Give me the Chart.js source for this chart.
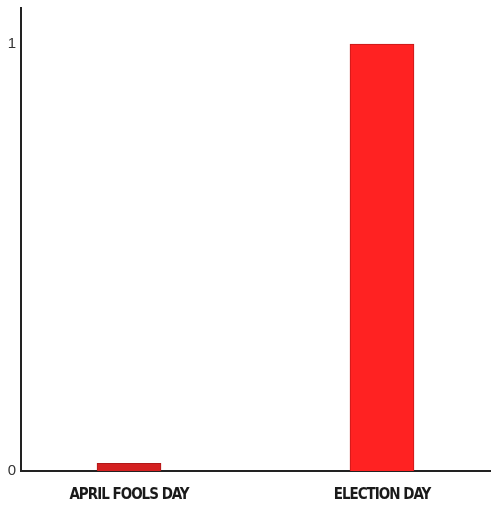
<!DOCTYPE html>
<html>
<head>
<meta charset="utf-8">
<script src="https://cdn.jsdelivr.net/npm/chart.js@4/dist/chart.umd.min.js"></script>
<style>
html,body{margin:0;padding:0;background:#fff;}
#wrap{width:494px;height:510px;}
</style>
</head>
<body>
<div id="wrap"><canvas id="c" width="494" height="510"></canvas></div>
<script>
const categories = ["APRIL FOOLS DAY", "ELECTION DAY"];
const values = [0.018, 1];
const fillColors = ["#d42020", "#ff2222"];
const borderColors = ["#b01818", "#c21a1a"];

const points = values.map((v, i) => ({x: i, y: v}));

const tightText = {
  id: 'tightText',
  beforeDraw(chart) { chart.ctx.letterSpacing = '-1px'; },
  afterDraw(chart) { chart.ctx.letterSpacing = '0px'; }
};

new Chart(document.getElementById('c'), {
  type: 'bar',
  data: {
    datasets: [{
      data: points,
      backgroundColor: fillColors,
      borderColor: borderColors,
      borderWidth: 1,
      barThickness: 64
    }]
  },
  plugins: [tightText],
  options: {
    responsive: false,
    devicePixelRatio: 1,
    animation: false,
    layout: {padding: {top: 8, right: 4, left: 0, bottom: 0}},
    plugins: {legend: {display: false}, tooltip: {enabled: false}},
    scales: {
      x: {
        type: 'linear',
        offset: false,
        bounds: 'ticks',
        min: -0.427,
        max: 1.427,
        grid: {display: false, drawTicks: false, offset: false},
        border: {display: true, color: '#222', width: 2},
        afterFit: s => { s.height = 39; s.paddingLeft = 0; s.paddingRight = 0; },
        ticks: {
          stepSize: 1,
          includeBounds: false,
          autoSkip: false,
          maxRotation: 0,
          padding: 15,
          color: '#1a1a1a',
          font: {family: '"DejaVu Sans Condensed", "DejaVu Sans", sans-serif', size: 15, weight: 'bold'},
          callback: v => Number.isInteger(v) && categories[v] !== undefined ? categories[v] : ''
        }
      },
      y: {
        min: 0,
        max: 1.0843,
        grid: {display: false, drawTicks: false},
        border: {display: true, color: '#222', width: 2},
        afterFit: s => { s.width = 21; s.paddingTop = 0; s.paddingBottom = 0; },
        ticks: {
          stepSize: 1,
          includeBounds: false,
          padding: 6,
          color: '#333',
          font: {family: '"Liberation Sans", Arial, sans-serif', size: 15}
        }
      }
    }
  }
});
</script>
</body>
</html>
